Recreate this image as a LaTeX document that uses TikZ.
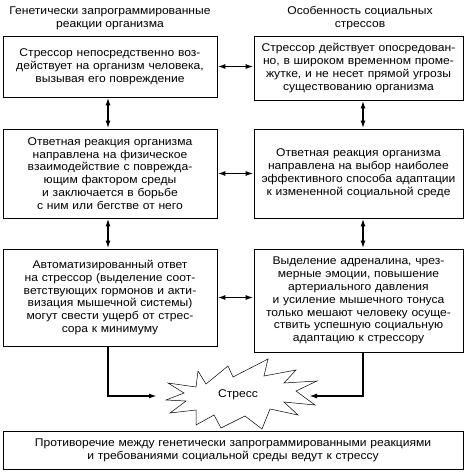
\documentclass[tikz,border=0pt]{standalone}
\usepackage{fontspec}
\setmainfont{Liberation Sans}[FakeStretch=1.08]
\usetikzlibrary{arrows.meta,calc}
\begin{document}
\begin{tikzpicture}[x=1pt,y=-1pt,
  every node/.style={font=\fontsize{11.2}{12.9}\selectfont},
  lbox/.style={draw,line width=0.8pt,align=center,inner xsep=3pt,inner ysep=0pt,text width=#1},
  lbox/.default=208pt,
  dbl/.style={line width=1.6pt,{Latex[length=8pt,width=5pt]}-{Latex[length=8pt,width=5pt]}},
  one/.style={line width=1.6pt,-{Latex[length=8pt,width=5pt]}},
  hdr/.style={align=center,inner sep=0pt}]
\useasboundingbox (0,0) rectangle (470,473);
\node[hdr] (HL) at (110,18) {Генетически запрограммированные\\реакции организма};
\node[hdr] (HR) at (360,18) {Особенность социальных\\стрессов};
\node[lbox=208pt,minimum height=61pt] (L1) at (110,66.5) {Стрессор непосредственно воз-\\действует на организм человека,\\вызывая его повреждение};
\node[lbox=203pt,minimum height=64pt] (R1) at (358.5,68) {Стрессор действует опосредован-\\но, в широком временном проме-\\жутке, и не несет прямой угрозы\\существованию организма};
\node[lbox=208pt,minimum height=89pt] (L2) at (110,173.5) {Ответная реакция организма\\направлена на физическое\\взаимодействие с поврежда-\\ющим фактором среды\\и заключается в борьбе\\с ним или бегстве от него};
\node[lbox=203pt,minimum height=89pt] (R2) at (358.5,173.5) {Ответная реакция организма\\направлена на выбор наиболее\\эффективного способа адаптации\\к измененной социальной среде};
\node[lbox=208pt,minimum height=97pt] (L3) at (110,297.5) {Автоматизированный ответ\\на стрессор (выделение соот-\\ветствующих гормонов и акти-\\визация мышечной системы)\\могут свести ущерб от стрес-\\сора к минимуму};
\node[lbox=203pt,minimum height=103pt] (R3) at (358.5,300.5) {Выделение адреналина, чрез-\\мерные эмоции, повышение\\артериального давления\\и усиление мышечного тонуса\\только мешают человеку осуще-\\ствить успешную социальную\\адаптацию к стрессору};
\node[lbox=454pt,minimum height=38pt] (B) at (233,450) {Противоречие между генетически запрограммированными реакциями\\и требованиями социальной среды ведут к стрессу};
% burst
\draw[line width=0.5pt] (198,371) -- (206,384) -- (228,366) -- (233,377) -- (268,359) -- (264,376) -- (296,370) -- (284,383) -- (317,381) -- (296,391) -- (315,405) -- (284,402) -- (298,415) -- (270,409) -- (262,429) -- (245,416) -- (221,428) -- (214,415) -- (196,425) -- (196,410) -- (170,413) -- (186,401) -- (166,400) -- (184,393) -- (168,383) -- (196,387) -- cycle;
\node (S) at (238,395) {Стресс};
\coordinate (SL) at (157,396);
\coordinate (SR) at (309,396);
% connectors
\draw[dbl] (L1.east) -- (L1.east -| R1.west);
\draw[dbl] (L2.east) -- (R2.west);
\draw[dbl] (L3.east) -- (L3.east -| R3.west);
\draw[dbl] ([xshift=-2pt]L1.south) -- ([xshift=-2pt]L2.north);
\draw[dbl] ([xshift=4.5pt]R1.south) -- ([xshift=4.5pt]R2.north);
\draw[dbl] ([xshift=-2pt]L2.south) -- ([xshift=-2pt]L3.north);
\draw[dbl] ([xshift=4.5pt]R2.south) -- ([xshift=4.5pt]R3.north);
\draw[one] ([xshift=-2pt]L3.south) |- (SL);
\draw[one] ([xshift=4.5pt]R3.south) |- (SR);
\end{tikzpicture}
\end{document}
